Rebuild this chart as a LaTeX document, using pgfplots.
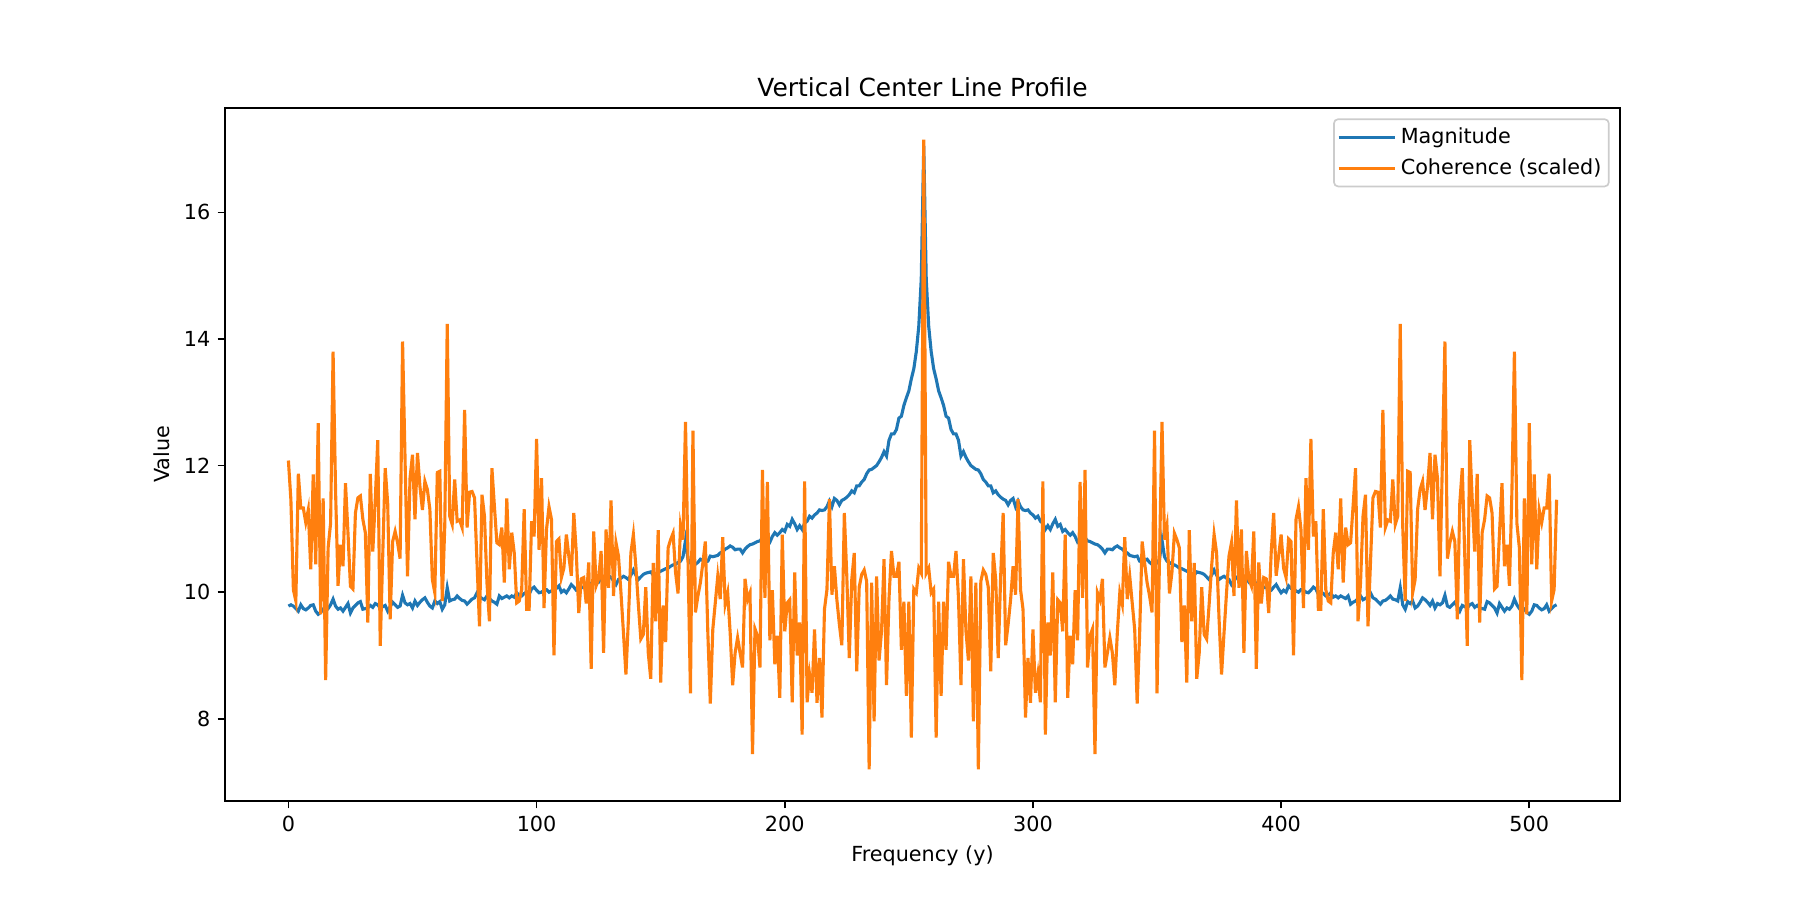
\documentclass[border=0pt]{standalone}
\usepackage{fontspec}
\setmainfont{DejaVu Sans}
\usepackage{pgfplots}
\usepackage{pgfplotstable}
\pgfplotsset{compat=1.18}
\definecolor{mplblue}{RGB}{31,119,180}
\definecolor{mplorange}{RGB}{255,127,14}
\pgfplotstableread{
i mag coh
0 9.78 12.08
1 9.80 11.46
2 9.78 10.04
3 9.74 9.86
4 9.70 11.87
5 9.80 11.33
6 9.74 11.33
7 9.72 11.10
8 9.75 11.30
9 9.79 10.36
10 9.80 11.86
11 9.70 10.44
12 9.65 12.67
13 9.68 9.65
14 9.73 11.48
15 9.70 8.61
16 9.74 10.70
17 9.80 11.09
18 9.89 13.80
19 9.78 11.60
20 9.73 10.10
21 9.75 10.75
22 9.70 10.41
23 9.76 11.72
24 9.82 10.94
25 9.67 10.09
26 9.75 10.05
27 9.79 11.25
28 9.83 11.49
29 9.85 11.52
30 9.73 11.15
31 9.74 10.94
32 9.75 9.52
33 9.79 11.87
34 9.76 10.64
35 9.82 11.46
36 9.80 12.40
37 9.75 9.15
38 9.77 10.57
39 9.79 11.96
40 9.70 11.41
41 9.77 9.57
42 9.84 10.80
43 9.80 10.96
44 9.76 10.78
45 9.78 10.53
46 9.95 13.96
47 9.83 12.10
48 9.80 10.25
49 9.82 11.80
50 9.75 12.17
51 9.86 11.15
52 9.79 12.20
53 9.84 11.67
54 9.88 11.30
55 9.91 11.75
56 9.84 11.62
57 9.78 11.31
58 9.75 10.20
59 9.86 9.99
60 9.82 11.89
61 9.85 11.91
62 9.73 9.86
63 9.80 11.04
64 10.07 14.24
65 9.86 11.20
66 9.88 11.07
67 9.89 11.78
68 9.94 11.12
69 9.90 11.14
70 9.87 11.02
71 9.86 12.88
72 9.81 11.02
73 9.85 11.58
74 9.89 11.59
75 9.91 11.49
76 9.99 10.46
77 9.93 9.46
78 9.90 11.54
79 9.88 11.20
80 9.94 10.15
81 9.90 9.54
82 9.86 11.96
83 9.84 11.36
84 9.81 10.78
85 9.94 10.75
86 9.90 11.02
87 9.92 10.15
88 9.94 11.48
89 9.91 10.36
90 9.94 10.94
91 9.92 10.62
92 9.99 9.83
93 9.95 9.86
94 9.94 10.04
95 9.98 11.31
96 10.00 9.73
97 9.97 9.73
98 10.05 11.12
99 10.08 10.88
100 10.03 12.42
101 9.99 10.67
102 10.00 11.80
103 10.03 9.75
104 10.04 10.99
105 10.00 11.35
106 10.02 11.15
107 10.05 9.00
108 10.06 10.80
109 10.10 10.84
110 10.00 10.23
111 10.03 10.38
112 9.99 10.91
113 10.05 10.57
114 10.12 10.26
115 10.08 11.25
116 10.03 10.62
117 10.04 9.67
118 10.08 10.21
119 10.07 10.23
120 10.12 9.82
121 10.10 10.47
122 10.14 8.79
123 10.17 10.96
124 10.20 10.10
125 10.16 10.21
126 10.22 10.65
127 10.20 9.04
128 10.24 10.99
129 10.26 10.07
130 10.23 11.45
131 10.18 9.94
132 10.12 10.78
133 10.20 10.57
134 10.22 9.99
135 10.25 9.36
136 10.23 8.70
137 10.20 9.57
138 10.27 10.62
139 10.35 10.91
140 10.27 10.41
141 10.20 9.81
142 10.24 9.26
143 10.28 9.33
144 10.30 10.08
145 10.31 9.04
146 10.32 8.63
147 10.27 10.46
148 10.29 9.54
149 10.31 10.98
150 10.33 8.57
151 10.35 9.79
152 10.37 9.21
153 10.38 10.70
154 10.41 10.83
155 10.43 10.93
156 10.44 10.31
157 10.47 9.98
158 10.49 11.05
159 10.56 10.83
160 10.82 12.69
161 10.52 10.54
162 10.46 8.40
163 10.45 12.55
164 10.44 9.68
165 10.47 9.94
166 10.52 10.15
167 10.50 10.46
168 10.48 10.80
169 10.49 9.36
170 10.57 8.24
171 10.56 9.41
172 10.57 9.83
173 10.58 10.25
174 10.62 9.89
175 10.64 10.87
176 10.68 9.81
177 10.70 9.99
178 10.73 9.36
179 10.71 8.53
180 10.67 9.04
181 10.68 9.28
182 10.68 9.04
183 10.62 8.81
184 10.68 10.21
185 10.72 9.88
186 10.75 9.99
187 10.76 7.44
188 10.78 9.42
189 10.80 9.31
190 10.81 8.81
191 10.86 11.93
192 10.84 9.91
193 10.82 11.74
194 10.79 9.24
195 10.88 10.03
196 10.94 8.86
197 10.90 9.31
198 10.94 8.33
199 10.99 10.91
200 10.96 9.38
201 11.07 9.83
202 11.04 9.88
203 11.15 8.26
204 11.08 10.31
205 10.99 9.00
206 11.05 9.52
207 10.99 7.75
208 11.09 11.75
209 11.12 8.26
210 11.20 8.70
211 11.17 8.41
212 11.22 9.41
213 11.25 8.25
214 11.30 8.96
215 11.29 8.02
216 11.30 9.73
217 11.35 10.04
218 11.44 11.47
219 11.35 9.96
220 11.48 10.41
221 11.45 9.88
222 11.38 9.49
223 11.45 9.16
224 11.47 11.25
225 11.50 10.25
226 11.54 8.96
227 11.60 10.20
228 11.57 10.62
229 11.68 8.75
230 11.68 10.08
231 11.74 10.28
232 11.78 10.35
233 11.87 10.17
234 11.93 7.20
235 11.94 10.15
236 11.97 7.96
237 12.00 10.25
238 12.06 8.92
239 12.13 9.39
240 12.22 10.52
241 12.15 8.53
242 12.40 9.90
243 12.50 10.65
244 12.50 10.25
245 12.57 10.25
246 12.75 10.48
247 12.78 9.09
248 12.95 9.85
249 13.07 8.36
250 13.18 9.85
251 13.37 7.70
252 13.53 10.05
253 13.80 9.99
254 14.20 10.38
255 14.95 10.30
256 17.05 17.15
257 14.95 10.30
258 14.20 10.38
259 13.80 9.99
260 13.53 10.05
261 13.37 7.70
262 13.18 9.85
263 13.07 8.36
264 12.95 9.85
265 12.78 9.09
266 12.75 10.48
267 12.57 10.25
268 12.50 10.25
269 12.50 10.65
270 12.40 9.90
271 12.15 8.53
272 12.22 10.52
273 12.13 9.39
274 12.06 8.92
275 12.00 10.25
276 11.97 7.96
277 11.94 10.15
278 11.93 7.20
279 11.87 10.17
280 11.78 10.35
281 11.74 10.28
282 11.68 10.08
283 11.68 8.75
284 11.57 10.62
285 11.60 10.20
286 11.54 8.96
287 11.50 10.25
288 11.47 11.25
289 11.45 9.16
290 11.38 9.49
291 11.45 9.88
292 11.48 10.41
293 11.35 9.96
294 11.44 11.47
295 11.35 10.04
296 11.30 9.73
297 11.29 8.02
298 11.30 8.96
299 11.25 8.25
300 11.22 9.41
301 11.17 8.41
302 11.20 8.70
303 11.12 8.26
304 11.09 11.75
305 10.99 7.75
306 11.05 9.52
307 10.99 9.00
308 11.08 10.31
309 11.15 8.26
310 11.04 9.88
311 11.07 9.83
312 10.96 9.38
313 10.99 10.91
314 10.94 8.33
315 10.90 9.31
316 10.94 8.86
317 10.88 10.03
318 10.79 9.24
319 10.82 11.74
320 10.84 9.91
321 10.86 11.93
322 10.81 8.81
323 10.80 9.31
324 10.78 9.42
325 10.76 7.44
326 10.75 9.99
327 10.72 9.88
328 10.68 10.21
329 10.62 8.81
330 10.68 9.04
331 10.68 9.28
332 10.67 9.04
333 10.71 8.53
334 10.73 9.36
335 10.70 9.99
336 10.68 9.81
337 10.64 10.87
338 10.62 9.89
339 10.58 10.25
340 10.57 9.83
341 10.56 9.41
342 10.57 8.24
343 10.49 9.36
344 10.48 10.80
345 10.50 10.46
346 10.52 10.15
347 10.47 9.94
348 10.44 9.68
349 10.45 12.55
350 10.46 8.40
351 10.52 10.54
352 10.82 12.69
353 10.56 10.83
354 10.49 11.05
355 10.47 9.98
356 10.44 10.31
357 10.43 10.93
358 10.41 10.83
359 10.38 10.70
360 10.37 9.21
361 10.35 9.79
362 10.33 8.57
363 10.31 10.98
364 10.29 9.54
365 10.27 10.46
366 10.32 8.63
367 10.31 9.04
368 10.30 10.08
369 10.28 9.33
370 10.24 9.26
371 10.20 9.81
372 10.27 10.41
373 10.35 10.91
374 10.27 10.62
375 10.20 9.57
376 10.23 8.70
377 10.25 9.36
378 10.22 9.99
379 10.20 10.57
380 10.12 10.78
381 10.18 9.94
382 10.23 11.45
383 10.26 10.07
384 10.24 10.99
385 10.20 9.04
386 10.22 10.65
387 10.16 10.21
388 10.20 10.10
389 10.17 10.96
390 10.14 8.79
391 10.10 10.47
392 10.12 9.82
393 10.07 10.23
394 10.08 10.21
395 10.04 9.67
396 10.03 10.62
397 10.08 11.25
398 10.12 10.26
399 10.05 10.57
400 9.99 10.91
401 10.03 10.38
402 10.00 10.23
403 10.10 10.84
404 10.06 10.80
405 10.05 9.00
406 10.02 11.15
407 10.00 11.35
408 10.04 10.99
409 10.03 9.75
410 10.00 11.80
411 9.99 10.67
412 10.03 12.42
413 10.08 10.88
414 10.05 11.12
415 9.97 9.73
416 10.00 9.73
417 9.98 11.31
418 9.94 10.04
419 9.95 9.86
420 9.99 9.83
421 9.92 10.62
422 9.94 10.94
423 9.91 10.36
424 9.94 11.48
425 9.92 10.15
426 9.90 11.02
427 9.94 10.75
428 9.81 10.78
429 9.84 11.36
430 9.86 11.96
431 9.90 9.54
432 9.94 10.15
433 9.88 11.20
434 9.90 11.54
435 9.93 9.46
436 9.99 10.46
437 9.91 11.49
438 9.89 11.59
439 9.85 11.58
440 9.81 11.02
441 9.86 12.88
442 9.87 11.02
443 9.90 11.14
444 9.94 11.12
445 9.89 11.78
446 9.88 11.07
447 9.86 11.20
448 10.07 14.24
449 9.80 11.04
450 9.73 9.86
451 9.85 11.91
452 9.82 11.89
453 9.86 9.99
454 9.75 10.20
455 9.78 11.31
456 9.84 11.62
457 9.91 11.75
458 9.88 11.30
459 9.84 11.67
460 9.79 12.20
461 9.86 11.15
462 9.75 12.17
463 9.82 11.80
464 9.80 10.25
465 9.83 12.10
466 9.95 13.96
467 9.78 10.53
468 9.76 10.78
469 9.80 10.96
470 9.84 10.80
471 9.77 9.57
472 9.70 11.41
473 9.79 11.96
474 9.77 10.57
475 9.75 9.15
476 9.80 12.40
477 9.82 11.46
478 9.76 10.64
479 9.79 11.87
480 9.75 9.52
481 9.74 10.94
482 9.73 11.15
483 9.85 11.52
484 9.83 11.49
485 9.79 11.25
486 9.75 10.05
487 9.67 10.09
488 9.82 10.94
489 9.76 11.72
490 9.70 10.41
491 9.75 10.75
492 9.73 10.10
493 9.78 11.60
494 9.89 13.80
495 9.80 11.09
496 9.74 10.70
497 9.70 8.61
498 9.73 11.48
499 9.68 9.65
500 9.65 12.67
501 9.70 10.44
502 9.80 11.86
503 9.79 10.36
504 9.75 11.30
505 9.72 11.10
506 9.74 11.33
507 9.80 11.33
508 9.70 11.87
509 9.74 9.86
510 9.78 10.04
511 9.80 11.46
}\datatable
\begin{document}
\begin{tikzpicture}
\begin{axis}[
  at={(0,0)}, anchor=south west,
  scale only axis, width=9.3in, height=4.62in,
  xmin=-25.55, xmax=536.55, ymin=6.70, ymax=17.65,
  xtick={0,100,200,300,400,500}, ytick={8,10,12,14,16},
  tick align=outside, tick pos=left, major tick length=3.5pt,
  every tick/.style={black, line width=0.8pt},
  axis line style={line width=0.8pt},
  ticklabel style={font=\fontsize{10}{12}\selectfont},
  /pgf/number format/assume math mode=true,
  xlabel={Frequency (y)}, ylabel={Value},
  label style={font=\fontsize{10}{12}\selectfont},
  title={Vertical Center Line Profile},
  every axis title/.style={font=\fontsize{12}{14}\selectfont, at={(0.5,1)}, anchor=base, yshift=5.7pt},
  legend style={at={(1,1)}, anchor=north east, xshift=-5pt, yshift=-5pt,
    draw=black!20, line width=0.8pt, rounded corners=2pt, fill=white,
    fill opacity=0.8, text opacity=1, font=\fontsize{10}{12}\selectfont,
    inner xsep=1.5pt, inner ysep=2.3pt, row sep=1.6pt, cells={anchor=west}},
  legend image code/.code={\path (-2pt,0pt) -- (25.2pt,0pt); \draw[#1] (0pt,0pt) -- (21.6pt,0pt);},
]
\addplot[mplblue, line width=1.5pt] table[x=i,y=mag]{\datatable};
\addlegendentry{Magnitude}
\addplot[mplorange, line width=1.5pt] table[x=i,y=coh]{\datatable};
\addlegendentry{Coherence (scaled)}
\end{axis}
\path (-1.5in,-0.66in) rectangle (10.5in,5.34in);
\end{tikzpicture}
\end{document}
